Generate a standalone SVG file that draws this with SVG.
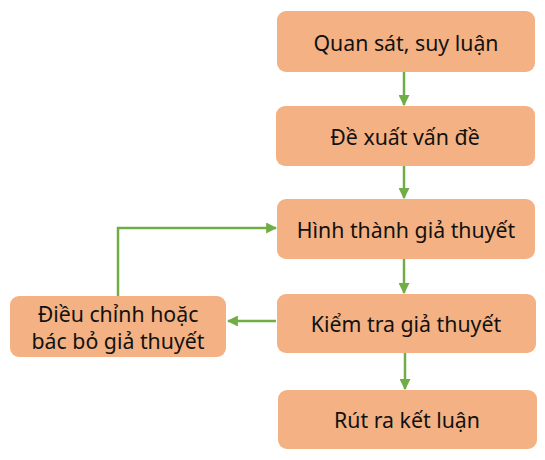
<svg xmlns="http://www.w3.org/2000/svg" width="545" height="460" viewBox="0 0 545 460">
<defs>
<style>
.box{fill:#F4B183;}
.t{font-family:"Noto Sans","Lato",sans-serif;font-size:21.3px;fill:#111111;text-anchor:middle;dominant-baseline:central;}
.c{stroke:#70AD47;stroke-width:2.5;fill:none;}
</style>
<marker id="ah" viewBox="0 0 10 10" refX="9" refY="5" markerWidth="4.4" markerHeight="4.4" orient="auto" markerUnits="strokeWidth">
<path d="M0,0 L10,5 L0,10 z" fill="#70AD47"/>
</marker>
</defs>
<rect width="545" height="460" fill="#ffffff"/>
<g id="connectors">
<path class="c" d="M404,72 L404,105" marker-end="url(#ah)"/>
<path class="c" d="M404,166 L404,198" marker-end="url(#ah)"/>
<path class="c" d="M404,259 L404,293" marker-end="url(#ah)"/>
<path class="c" d="M405,353 L405,389" marker-end="url(#ah)"/>
<path class="c" d="M276,321 L228,321" marker-end="url(#ah)"/>
<path class="c" d="M118,296 L118,228 L276,228" marker-end="url(#ah)"/>
</g>
<g id="n1"><rect class="box" x="277" y="11" width="258" height="61" rx="9"/><text class="t" x="406" y="42">Quan sát, suy luận</text></g>
<g id="n2"><rect class="box" x="276" y="106" width="259" height="60" rx="9"/><text class="t" x="405" y="136">Đề xuất vấn đề</text></g>
<g id="n3"><rect class="box" x="277" y="199" width="258" height="60" rx="9"/><text class="t" x="406" y="229">Hình thành giả thuyết</text></g>
<g id="n4"><rect class="box" x="277" y="294" width="259" height="59" rx="9"/><text class="t" x="406" y="323">Kiểm tra giả thuyết</text></g>
<g id="n5"><rect class="box" x="278" y="390" width="259" height="59" rx="9"/><text class="t" x="407" y="419">Rút ra kết luận</text></g>
<g id="n6"><rect class="box" x="10" y="296" width="216" height="61" rx="9"/><text class="t" x="118" y="313">Điều chỉnh hoặc</text><text class="t" x="118" y="340">bác bỏ giả thuyết</text></g>
</svg>
